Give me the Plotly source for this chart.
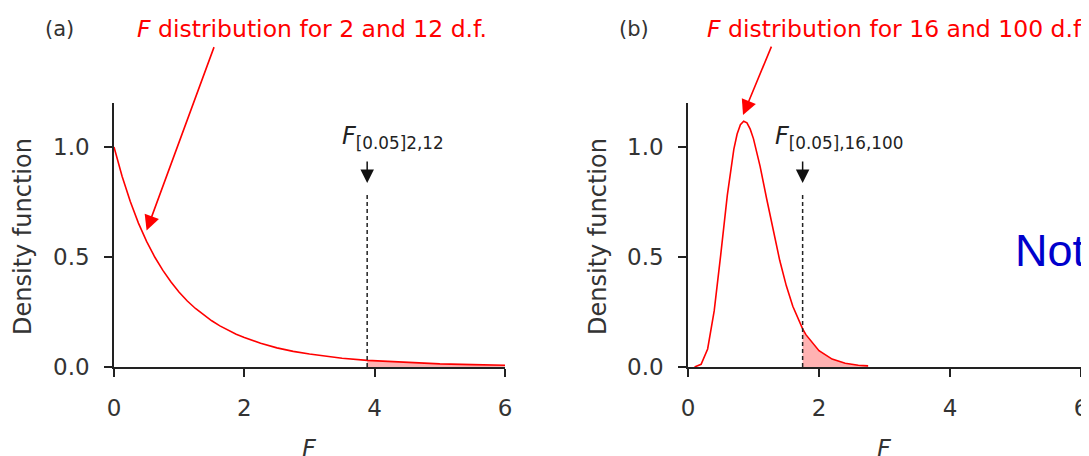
import plotly.graph_objects as go

# ---------------- data ----------------
f_a = [0.0, 0.125, 0.25, 0.375, 0.5, 0.625, 0.75, 0.875, 1.0, 1.125, 1.25, 1.375, 1.5,
       1.625, 1.75, 1.875, 2.0, 2.25, 2.5, 2.75, 3.0, 3.25, 3.5, 3.885, 4.0, 4.5, 5.0, 5.5, 6.0]
dens_a = [1.0, 0.866, 0.752, 0.654, 0.571, 0.500, 0.439, 0.386, 0.340, 0.300, 0.266, 0.236, 0.210,
          0.187, 0.167, 0.149, 0.134, 0.108, 0.087, 0.071, 0.059, 0.048, 0.040, 0.030, 0.028,
          0.020, 0.014, 0.011, 0.008]
crit_a = 3.885

f_b = [0.1, 0.2, 0.3, 0.4, 0.5, 0.6, 0.7, 0.75, 0.8, 0.85, 0.9, 0.95, 1.0, 1.1, 1.2, 1.3, 1.4,
       1.5, 1.6, 1.75, 1.8, 2.0, 2.2, 2.4, 2.6, 2.75]
dens_b = [0.0002, 0.012, 0.082, 0.255, 0.511, 0.780, 0.990, 1.059, 1.101, 1.117, 1.110, 1.081,
          1.037, 0.913, 0.766, 0.619, 0.485, 0.370, 0.276, 0.173, 0.147, 0.074, 0.036, 0.017,
          0.008, 0.005]
crit_b = 1.75

x_ticks = [0, 2, 4, 6]
y_ticks = [0.0, 0.5, 1.0]
y_ticktext = ["0.0", "0.5", "1.0"]

panel_letters = ["(a)", "(b)"]
panel_titles = ["<i>F</i> distribution for 2 and 12 d.f.",
                "<i>F</i> distribution for 16 and 100 d.f."]
crit_labels = ["<i>F</i><sub>[0.05]2,12</sub>", "<i>F</i><sub>[0.05],16,100</sub>"]

# ---------------- figure ----------------
W, H = 1089, 456
OFF = 8  # the page body adds an 8px margin around the plot
FONT = "DejaVu Sans"
INK = "#222222"
RED = "#ff0000"

def px(x):
    return (x - OFF) / W

def py(y):
    return 1 - (y - OFF) / H

fig = go.Figure()

curves = [(f_a, dens_a, crit_a, "x", "y"), (f_b, dens_b, crit_b, "x2", "y2")]
for fx, fy, crit, xa, ya in curves:
    tail_x = [v for v in fx if v >= crit]
    tail_y = [d for v, d in zip(fx, fy) if v >= crit]
    fig.add_trace(go.Scatter(x=tail_x, y=tail_y, mode="lines", fill="tozeroy",
                             fillcolor="rgba(255,0,0,0.30)", line=dict(width=0),
                             xaxis=xa, yaxis=ya, hoverinfo="skip", showlegend=False))
    fig.add_trace(go.Scatter(x=fx, y=fy, mode="lines", line=dict(color=RED, width=1.6),
                             xaxis=xa, yaxis=ya, cliponaxis=False, showlegend=False))

axis_common = dict(showline=True, linecolor=INK, linewidth=1.5, ticks="outside", ticklen=8,
                   tickwidth=1.5, tickcolor=INK, showgrid=False, zeroline=False,
                   automargin=False, ticklabeloverflow="allow",
                   tickfont=dict(family=FONT, size=23, color="#333333"), fixedrange=True)

fig.update_layout(
    width=W, height=H, autosize=False,
    margin=dict(l=0, r=0, t=0, b=0),
    paper_bgcolor="white", plot_bgcolor="white",
    showlegend=False,
    xaxis=dict(domain=[px(114), px(505)], range=[0, 6], tickvals=x_ticks,
               anchor="y", ticklabelstandoff=12, **axis_common),
    yaxis=dict(domain=[py(367), py(103)], range=[0, 1.2], tickvals=y_ticks,
               ticktext=y_ticktext, anchor="x", ticklabelstandoff=10, **axis_common),
    xaxis2=dict(domain=[px(688), px(1081)], range=[0, 6], tickvals=x_ticks,
                anchor="y2", ticklabelstandoff=12, **axis_common),
    yaxis2=dict(domain=[py(367), py(103)], range=[0, 1.2], tickvals=y_ticks,
                ticktext=y_ticktext, anchor="x2", ticklabelstandoff=10, **axis_common),
)

# dashed critical-value lines
for crit, xa, ya in [(crit_a, "x", "y"), (crit_b, "x2", "y2")]:
    fig.add_shape(type="line", xref=xa, yref=ya, x0=crit, x1=crit, y0=0, y1=0.79,
                  line=dict(color=INK, width=1.5, dash="4px,3px"))

ann = []
# panel letters and titles
for cx, letter in zip([59, 634], panel_letters):
    ann.append(dict(xref="paper", yref="paper", x=px(cx), y=py(29), text=letter,
                    showarrow=False, xanchor="center", yanchor="middle",
                    font=dict(family=FONT, size=21, color="#333333")))
for lx, title in zip([135, 705], panel_titles):
    ann.append(dict(xref="paper", yref="paper", x=px(lx), y=py(29), text=title,
                    showarrow=False, xanchor="left", yanchor="middle",
                    font=dict(family=FONT, size=23.5, color=RED)))

# axis titles
for cx in [23, 598]:
    ann.append(dict(xref="paper", yref="paper", x=px(cx), y=py(237), text="Density function",
                    textangle=-90, showarrow=False, xanchor="center", yanchor="middle",
                    font=dict(family=FONT, size=24, color="#333333")))
for cx in [309.5, 884.5]:
    ann.append(dict(xref="paper", yref="paper", x=px(cx), y=py(449), text="<i>F</i>",
                    showarrow=False, xanchor="center", yanchor="middle",
                    font=dict(family=FONT, size=24, color="#333333")))

# critical value labels and black arrows
for crit, lab, xa, ya, lx in [(crit_a, crit_labels[0], "x", "y", 3.466),
                              (crit_b, crit_labels[1], "x2", "y2", 1.298)]:
    ann.append(dict(xref=xa, yref=ya, x=lx, y=(367 - 137) / 220, text=lab, showarrow=False,
                    xanchor="left", yanchor="middle",
                    font=dict(family=FONT, size=24, color="#222222")))
    ann.append(dict(xref=xa, yref=ya, x=crit, y=(367 - 183) / 220, text="", showarrow=True,
                    ax=0, ay=-23, arrowhead=2, arrowsize=1.8, arrowwidth=1.5,
                    arrowcolor="#111111"))

# red pointer arrows from the titles
ann.append(dict(xref="x", yref="y", x=0.5, y=0.62, text="", showarrow=True,
                ax=68, ay=-185, arrowhead=2, arrowsize=1.9, arrowwidth=1.6, arrowcolor=RED))
ann.append(dict(xref="x2", yref="y2", x=0.84, y=1.145, text="", showarrow=True,
                ax=29, ay=-70, arrowhead=2, arrowsize=1.9, arrowwidth=1.6, arrowcolor=RED))

# blue note (cut off at the right edge)
ann.append(dict(xref="paper", yref="paper", x=px(1013), y=py(250), text="Note",
                showarrow=False, xanchor="left", yanchor="middle",
                font=dict(family="Liberation Sans", size=45, color="#0000cc")))

fig.update_layout(annotations=ann)
fig.write_html("out.html")
